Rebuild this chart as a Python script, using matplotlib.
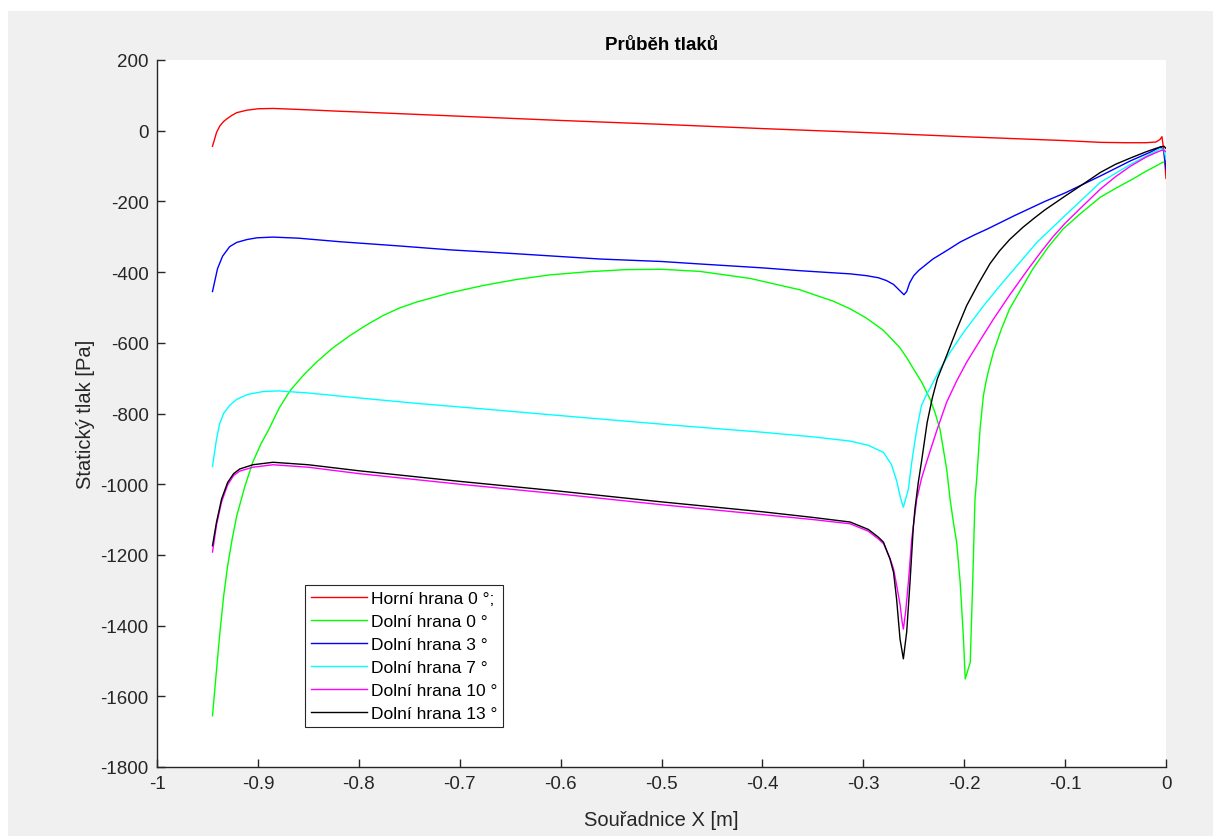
import matplotlib
matplotlib.use("Agg")
import matplotlib.pyplot as plt
from matplotlib.patches import Rectangle

plt.rcParams['font.family'] = ['Liberation Sans', 'DejaVu Sans']
plt.rcParams['axes.unicode_minus'] = False

# ---- data ----
red_x = [-0.945, -0.941, -0.9376, -0.934, -0.931, -0.926, -0.921, -0.911, -0.900, -0.885,
         -0.850, -0.819, -0.800, -0.700, -0.600, -0.500, -0.400, -0.300, -0.200, -0.100,
         -0.065, -0.040, -0.020, -0.010, -0.006, -0.004, -0.002, 0.0]
red_y = [-44, -5, 14, 26, 33, 43, 51, 58, 62, 63,
         59, 55, 53, 41, 29, 18, 6, -5, -17, -28,
         -33, -34, -34, -32, -25, -17, -60, -135]

green_x = [-0.945, -0.941, -0.9376, -0.934, -0.930, -0.9255, -0.921, -0.913, -0.905, -0.897,
           -0.889, -0.879, -0.868, -0.855, -0.842, -0.826, -0.809, -0.792, -0.776, -0.760,
           -0.743, -0.710, -0.677, -0.644, -0.611, -0.573, -0.535, -0.500, -0.462, -0.412,
           -0.363, -0.330, -0.313, -0.297, -0.280, -0.264, -0.257, -0.250, -0.242, -0.2339,
           -0.229, -0.224, -0.2174, -0.214, -0.2107, -0.2075, -0.204, -0.2007, -0.199, -0.194,
           -0.1915, -0.1893, -0.1876, -0.1843, -0.181, -0.1785, -0.176, -0.171, -0.163, -0.155,
           -0.143, -0.132, -0.117, -0.102, -0.085, -0.065, -0.048, -0.033, -0.020, -0.010,
           -0.003, 0.0]
green_y = [-1655, -1525, -1418, -1318, -1231, -1155, -1090, -1007, -937, -886,
           -844, -785, -735, -692, -655, -615, -580, -549, -523, -502,
           -485, -459, -438, -421, -408, -399, -393, -392, -398, -418,
           -450, -482, -504, -530, -565, -613, -642, -675, -712, -759,
           -797, -844, -957, -1042, -1108, -1164, -1277, -1438, -1551, -1504,
           -1270, -1042, -985, -844, -750, -712, -680, -626, -560, -504,
           -445, -391, -330, -278, -235, -188, -160, -137, -115, -100,
           -89, -90]

blue_x = [-0.945, -0.940, -0.935, -0.928, -0.921, -0.911, -0.901, -0.885, -0.860, -0.819,
          -0.760, -0.710, -0.650, -0.561, -0.500, -0.462, -0.400, -0.363, -0.313, -0.297,
          -0.285, -0.277, -0.270, -0.2636, -0.2597, -0.257, -0.254, -0.250, -0.245, -0.231,
          -0.215, -0.204, -0.190, -0.177, -0.150, -0.120, -0.100, -0.065, -0.035, -0.015,
          -0.005, -0.002, 0.0]
blue_y = [-455, -390, -355, -328, -316, -308, -303, -301, -304, -314,
          -326, -337, -347, -363, -370, -377, -388, -396, -405, -410,
          -416, -424, -435, -453, -464, -455, -430, -410, -395, -363,
          -335, -315, -295, -278, -240, -200, -176, -128, -85, -60,
          -45, -60, -110]

cyan_x = [-0.945, -0.941, -0.938, -0.934, -0.928, -0.921, -0.910, -0.895, -0.880, -0.850,
          -0.800, -0.740, -0.677, -0.600, -0.530, -0.462, -0.400, -0.350, -0.313, -0.295,
          -0.280, -0.272, -0.267, -0.263, -0.2603, -0.2553, -0.252, -0.247, -0.2424, -0.238,
          -0.2343, -0.225, -0.214, -0.200, -0.181, -0.165, -0.148, -0.128, -0.100, -0.065,
          -0.035, -0.015, -0.005, -0.002, 0.0]
cyan_y = [-950, -872, -830, -800, -777, -760, -746, -738, -736, -742,
          -756, -772, -787, -806, -823, -839, -853, -866, -878, -890,
          -910, -945, -990, -1040, -1065, -1014, -938, -844, -778, -750,
          -731, -680, -627, -568, -496, -440, -383, -316, -240, -146,
          -95, -65, -50, -55, -80]

magenta_x = [-0.945, -0.941, -0.936, -0.930, -0.924, -0.918, -0.905, -0.885, -0.850, -0.800,
             -0.700, -0.600, -0.500, -0.400, -0.350, -0.313, -0.295, -0.285, -0.280, -0.2735,
             -0.270, -0.267, -0.2636, -0.2615, -0.2603, -0.258, -0.2553, -0.252, -0.247, -0.2424,
             -0.2374, -0.2274, -0.2174, -0.2075, -0.1976, -0.184, -0.171, -0.155, -0.138, -0.125,
             -0.112, -0.100, -0.085, -0.065, -0.050, -0.035, -0.020, -0.010, -0.004, -0.002, 0.0]
magenta_y = [-1192, -1115, -1050, -1002, -975, -963, -952, -945, -952, -970,
             -1000, -1028, -1058, -1086, -1100, -1112, -1133, -1155, -1168, -1210,
             -1240, -1285, -1340, -1390, -1410, -1360, -1277, -1155, -1042, -985,
             -938, -850, -768, -708, -655, -592, -533, -465, -397, -347,
             -300, -262, -220, -165, -130, -100, -75, -62, -55, -55, -60]

black_x = [-0.945, -0.941, -0.936, -0.930, -0.924, -0.918, -0.905, -0.885, -0.850, -0.800,
           -0.700, -0.600, -0.500, -0.400, -0.350, -0.313, -0.295, -0.285, -0.280, -0.2735,
           -0.270, -0.267, -0.2636, -0.2603, -0.257, -0.2537, -0.2504, -0.2488, -0.2455, -0.2424,
           -0.2367, -0.2315, -0.2266, -0.2174, -0.2075, -0.1976, -0.186, -0.1744, -0.165, -0.155,
           -0.1417, -0.130, -0.120, -0.100, -0.080, -0.065, -0.050, -0.035, -0.020, -0.010,
           -0.004, -0.002, 0.0]
black_y = [-1174, -1107, -1042, -995, -970, -957, -945, -938, -945, -962,
           -992, -1020, -1050, -1078, -1094, -1107, -1128, -1150, -1164, -1212,
           -1250, -1325, -1438, -1494, -1418, -1277, -1120, -1070, -995, -938,
           -825, -755, -702, -636, -563, -495, -433, -376, -340, -308,
           -273, -246, -224, -185, -147, -118, -95, -77, -60, -50,
           -45, -44, -50]

labels = ['Horní hrana 0 °;', 'Dolní hrana 0 °', 'Dolní hrana 3 °',
          'Dolní hrana 7 °', 'Dolní hrana 10 °', 'Dolní hrana 13 °']
colors = ['#ff0000', '#00ff00', '#0000ff', '#00ffff', '#ff00ff', '#000000']

xticks = [-1, -0.9, -0.8, -0.7, -0.6, -0.5, -0.4, -0.3, -0.2, -0.1, 0]
xticklabels = ['-1', '-0.9', '-0.8', '-0.7', '-0.6', '-0.5', '-0.4', '-0.3', '-0.2', '-0.1', '0']
yticks = [200, 0, -200, -400, -600, -800, -1000, -1200, -1400, -1600, -1800]

# ---- figure ----
W, H = 1213, 837
fig = plt.figure(figsize=(W / 100, H / 100), dpi=100, facecolor='white')
fig.patches.append(Rectangle((8 / W, 0), 1 - 8 / W, 1 - 12 / H, transform=fig.transFigure,
                             facecolor='#f0f0f0', edgecolor='none', zorder=-10))

ax = fig.add_axes([157 / W, 1 - 768 / H, (1166 - 157) / W, (768 - 61) / H])
ax.set_facecolor('white')

series = [(red_x, red_y), (green_x, green_y), (blue_x, blue_y),
          (cyan_x, cyan_y), (magenta_x, magenta_y), (black_x, black_y)]
for (xs, ys), c, lab in zip(series, colors, labels):
    ax.plot(xs, ys, color=c, lw=1.0, label=lab)

ax.set_xlim(-1, 0)
ax.set_ylim(-1800, 200)
ax.set_xticks(xticks)
ax.set_xticklabels(xticklabels)
ax.set_yticks(yticks)
dark = '#262626'
for s in ['top', 'right']:
    ax.spines[s].set_visible(False)
for s in ['left', 'bottom']:
    ax.spines[s].set_color(dark)
    ax.spines[s].set_linewidth(1.0)
ax.tick_params(direction='in', length=6, width=1.0, colors=dark, labelsize=13.5, pad=6)

ax.set_xlabel('Souřadnice X [m]', fontsize=14.5, color=dark, labelpad=13)
ax.set_ylabel('Statický tlak [Pa]', fontsize=14.5, color=dark, labelpad=4)
ax.set_title('Průběh tlaků', fontsize=13.5, fontweight='bold', color='black', pad=8)

leg = ax.legend(loc='lower left', bbox_to_anchor=((305 - 157) / 1009, (768 - 728) / 707),
                fontsize=12.5, frameon=True, fancybox=False, framealpha=1,
                edgecolor=dark, handlelength=3.2, handletextpad=0.25,
                borderpad=0.35, labelspacing=0.45, borderaxespad=0)
leg.get_frame().set_linewidth(0.8)

fig.savefig('out.png', dpi=100, facecolor=fig.get_facecolor())
